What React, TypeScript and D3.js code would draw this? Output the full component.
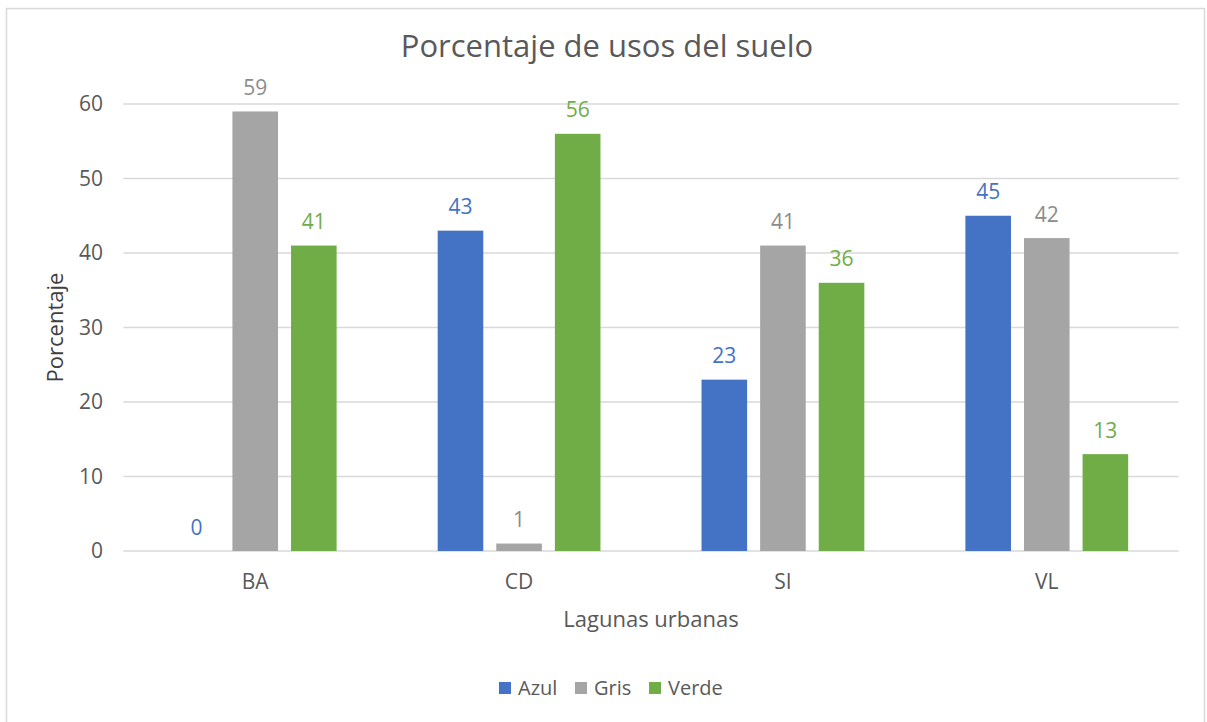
import * as d3 from "d3"
import { useEffect, useRef } from "react"

const categories = ["BA", "CD", "SI", "VL"]
const seriesNames = ["Azul", "Gris", "Verde"]
const azul = [0, 43, 23, 45]
const gris = [59, 1, 41, 42]
const verde = [41, 56, 36, 13]
const yTicks = [0, 10, 20, 30, 40, 50, 60]

const barColors = ["#4472C4", "#A5A5A5", "#70AD47"]
const labelColors = ["#4472C4", "#8C8C8C", "#70AD47"]
const FONT = "'Open Sans', 'Noto Sans', sans-serif"

export default function App() {
  const svgRef = useRef<SVGSVGElement>(null)

  useEffect(() => {
    if (!svgRef.current) return
    document.body.style.margin = "0"
    const width = 1207
    const height = 722
    const svg = d3.select(svgRef.current)
    svg.selectAll("*").remove()
    svg.attr("width", width).attr("height", height)

    // chart frame
    svg.append("rect")
      .attr("x", 6.5).attr("y", 8.5)
      .attr("width", 1198).attr("height", 760)
      .attr("fill", "#fff")
      .attr("stroke", "#D9D9D9")
      .attr("stroke-width", 1.5)

    const left = 123.3
    const right = 1178.7
    const top = 104
    const bottom = 551

    const y = d3.scaleLinear().domain([0, 60]).range([bottom, top])
    const x0 = d3.scaleBand<string>()
      .domain(categories)
      .range([left, right])
      .paddingInner(0.383)
      .paddingOuter(0.1915)
    const x1 = d3.scaleBand<string>()
      .domain(seriesNames)
      .range([0, x0.bandwidth()])
      .paddingInner(0.222)
      .paddingOuter(0)

    // gridlines
    svg.append("g")
      .selectAll("line")
      .data(yTicks)
      .join("line")
      .attr("x1", left).attr("x2", right)
      .attr("y1", (d) => y(d)).attr("y2", (d) => y(d))
      .attr("stroke", "#D9D9D9")
      .attr("stroke-width", 1.5)

    // y tick labels
    svg.append("g")
      .selectAll("text")
      .data(yTicks)
      .join("text")
      .attr("x", 103)
      .attr("y", (d) => y(d) + 7)
      .attr("text-anchor", "end")
      .style("font-family", FONT)
      .style("font-size", "21px")
      .style("fill", "#595959")
      .text((d) => d)

    const series = [azul, gris, verde]
    const rows = categories.flatMap((c, i) =>
      seriesNames.map((s, j) => ({ cat: c, name: s, value: series[j][i], idx: j }))
    )

    const bars = svg.append("g")
    bars.selectAll("rect")
      .data(rows)
      .join("rect")
      .attr("x", (d) => x0(d.cat)! + x1(d.name)!)
      .attr("y", (d) => y(d.value))
      .attr("width", x1.bandwidth())
      .attr("height", (d) => y(0) - y(d.value))
      .attr("fill", (d) => barColors[d.idx])

    // data labels
    bars.selectAll("text")
      .data(rows)
      .join("text")
      .attr("x", (d) => x0(d.cat)! + x1(d.name)! + x1.bandwidth() / 2)
      .attr("y", (d) => y(d.value) - 16.5)
      .attr("text-anchor", "middle")
      .style("font-family", FONT)
      .style("font-size", "21px")
      .style("fill", (d) => labelColors[d.idx])
      .text((d) => d.value)

    // category labels
    svg.append("g")
      .selectAll("text")
      .data(categories)
      .join("text")
      .attr("x", (d) => x0(d)! + x0.bandwidth() / 2)
      .attr("y", 589)
      .attr("text-anchor", "middle")
      .style("font-family", FONT)
      .style("font-size", "21px")
      .style("fill", "#595959")
      .text((d) => d)

    // title
    svg.append("text")
      .attr("x", 607)
      .attr("y", 57)
      .attr("text-anchor", "middle")
      .style("font-family", FONT)
      .style("font-size", "31px")
      .style("fill", "#595959")
      .text("Porcentaje de usos del suelo")

    // axis titles
    svg.append("text")
      .attr("transform", `translate(63, ${(top + bottom) / 2}) rotate(-90)`)
      .attr("text-anchor", "middle")
      .style("font-family", FONT)
      .style("font-size", "22px")
      .style("fill", "#404040")
      .text("Porcentaje")

    svg.append("text")
      .attr("x", (left + right) / 2)
      .attr("y", 627)
      .attr("text-anchor", "middle")
      .style("font-family", FONT)
      .style("font-size", "22px")
      .style("fill", "#595959")
      .text("Lagunas urbanas")

    // legend
    const legendX = [499, 575, 649]
    const legend = svg.append("g")
    seriesNames.forEach((s, i) => {
      const g = legend.append("g").attr("transform", `translate(${legendX[i]}, 682)`)
      g.append("rect").attr("width", 12).attr("height", 12).attr("fill", barColors[i])
      g.append("text")
        .attr("x", 19)
        .attr("y", 13)
        .style("font-family", FONT)
        .style("font-size", "20px")
        .style("fill", "#595959")
        .text(s)
    })
  }, [])

  return <svg ref={svgRef} style={{ display: "block" }} />
}
